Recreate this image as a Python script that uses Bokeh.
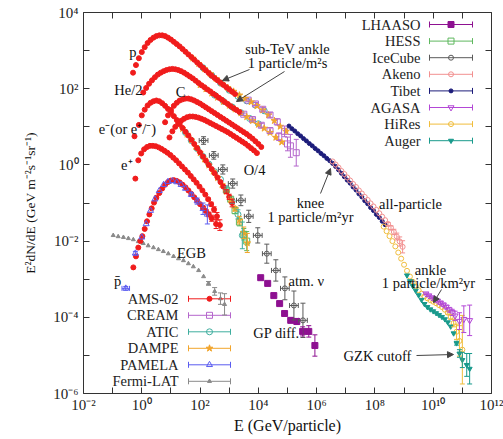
from bokeh.plotting import figure
from bokeh.models import (ColumnDataSource, FixedTicker, LogAxis, Whisker, TeeHead,
                          Arrow, NormalHead)
from bokeh.core.properties import value
from bokeh.embed import file_html
from bokeh.resources import INLINE

FONT = "Liberation Serif"

# ------------------------------------------------------------------ data
# All values are log10: energy in GeV/particle, flux E^2 dN/dE in GeV m^-2 s^-1 sr^-1.

# AMS-02 protons
ams_p_lgE = [-0.30, -0.20, -0.10, 0.00, 0.10, 0.20, 0.30, 0.40, 0.50, 0.60, 0.70, 0.80,
             0.90, 1.00, 1.10, 1.20, 1.30, 1.40, 1.50, 1.60, 1.70, 1.80, 1.90, 2.00,
             2.10, 2.20, 2.30, 2.40, 2.50, 2.60, 2.70, 2.80, 2.90, 3.00, 3.10, 3.20]
ams_p_lgF = [2.42, 2.62, 2.80, 2.96, 3.09, 3.20, 3.28, 3.34, 3.38, 3.40, 3.40, 3.38,
             3.34, 3.29, 3.23, 3.17, 3.11, 3.04, 2.97, 2.90, 2.83, 2.76, 2.69, 2.62,
             2.55, 2.48, 2.41, 2.34, 2.28, 2.22, 2.16, 2.10, 2.04, 1.98, 1.92, 1.86]
# AMS-02 helium (divided by 2)
ams_he_lgE = [0.05, 0.15, 0.25, 0.35, 0.45, 0.55, 0.65, 0.75, 0.85, 0.95, 1.05, 1.15,
              1.25, 1.35, 1.45, 1.55, 1.65, 1.75, 1.85, 1.95, 2.05, 2.15, 2.25, 2.35,
              2.45, 2.55, 2.65, 2.75, 2.85, 2.95, 3.05, 3.15, 3.25, 3.35]
ams_he_lgF = [1.90, 2.02, 2.13, 2.22, 2.30, 2.37, 2.42, 2.46, 2.49, 2.51, 2.52, 2.51,
              2.49, 2.46, 2.42, 2.37, 2.32, 2.27, 2.21, 2.15, 2.09, 2.04, 1.98, 1.93,
              1.87, 1.82, 1.76, 1.71, 1.65, 1.60, 1.54, 1.49, 1.44, 1.39]
# AMS-02 electrons
ams_em_lgE = [-0.25, -0.10, 0.00, 0.10, 0.20, 0.30, 0.40, 0.50, 0.60, 0.70, 0.80, 0.90,
              1.00, 1.10, 1.20, 1.30, 1.40, 1.50, 1.60, 1.70, 1.80, 1.90, 2.00, 2.10,
              2.20, 2.30, 2.40, 2.50, 2.60, 2.70, 2.80, 2.90, 3.00, 3.10]
ams_em_lgF = [0.75, 1.05, 1.30, 1.45, 1.56, 1.63, 1.67, 1.69, 1.67, 1.62, 1.55, 1.47,
              1.38, 1.28, 1.18, 1.07, 0.97, 0.87, 0.77, 0.66, 0.55, 0.44, 0.33, 0.22,
              0.11, 0.00, -0.11, -0.22, -0.33, -0.45, -0.57, -0.70, -0.84, -1.00]
ams_em_dF = [0, 0, 0, 0, 0, 0, 0, 0, 0, 0, 0, 0, 0, 0, 0, 0, 0, 0, 0, 0, 0, 0, 0, 0,
             0, 0, 0, 0, 0, 0, 0.03, 0.05, 0.07, 0.10]
# AMS-02 positrons
ams_ep_lgE = [-0.22, -0.12, -0.02, 0.08, 0.18, 0.28, 0.38, 0.48, 0.58, 0.68, 0.78, 0.88,
              0.98, 1.08, 1.18, 1.28, 1.38, 1.48, 1.58, 1.68, 1.78, 1.88, 1.98, 2.08,
              2.18, 2.28, 2.38, 2.48, 2.58, 2.68]
ams_ep_lgF = [-0.36, 0.12, 0.30, 0.41, 0.47, 0.50, 0.50, 0.49, 0.46, 0.42, 0.37, 0.32,
              0.26, 0.19, 0.12, 0.04, -0.04, -0.12, -0.20, -0.29, -0.38, -0.47, -0.57, -0.67,
              -0.78, -0.90, -1.03, -1.17, -1.35, -1.58]
ams_ep_dF = [0, 0, 0, 0, 0, 0, 0, 0, 0, 0, 0, 0, 0, 0, 0, 0, 0, 0, 0, 0, 0, 0, 0, 0,
             0, 0.03, 0.05, 0.07, 0.10, 0.14]
# AMS-02 antiprotons
ams_pb_lgE = [-0.29, -0.20, -0.12, -0.05, 0.02, 0.10, 0.18, 0.26, 0.34, 0.42, 0.50, 0.60,
              0.70, 0.80, 0.90, 1.00, 1.10, 1.20, 1.30, 1.40, 1.50, 1.60, 1.70, 1.80,
              1.90, 2.00, 2.10, 2.20, 2.30, 2.40, 2.55]
ams_pb_lgF = [-2.69, -2.40, -2.17, -2.00, -1.87, -1.68, -1.48, -1.30, -1.14, -0.99, -0.86, -0.74,
              -0.62, -0.52, -0.45, -0.41, -0.40, -0.42, -0.46, -0.52, -0.59, -0.67, -0.76, -0.85,
              -0.94, -1.03, -1.12, -1.21, -1.30, -1.40, -1.55]
ams_pb_dF = [0, 0, 0, 0, 0, 0, 0, 0, 0, 0, 0, 0, 0, 0, 0, 0, 0, 0, 0, 0, 0, 0, 0, 0,
             0, 0, 0.03, 0.04, 0.06, 0.08, 0.12]
# AMS-02 carbon
ams_c_lgE = [0.80, 0.90, 1.00, 1.10, 1.20, 1.30, 1.40, 1.50, 1.60, 1.70, 1.80, 1.90,
             2.00, 2.10, 2.20, 2.30, 2.40, 2.50, 2.60, 2.70, 2.80, 2.90, 3.00, 3.10,
             3.20, 3.30, 3.40, 3.50, 3.60, 3.70, 3.80, 3.90, 4.00, 4.10]
ams_c_lgF = [1.12, 1.30, 1.44, 1.55, 1.63, 1.69, 1.72, 1.74, 1.74, 1.72, 1.69, 1.65,
             1.61, 1.56, 1.51, 1.46, 1.41, 1.36, 1.31, 1.26, 1.21, 1.16, 1.11, 1.06,
             1.01, 0.96, 0.91, 0.86, 0.81, 0.75, 0.69, 0.62, 0.55, 0.47]
# AMS-02 oxygen (divided by 4)
ams_o_lgE = [0.95, 1.05, 1.15, 1.25, 1.35, 1.45, 1.55, 1.65, 1.75, 1.85, 1.95, 2.05,
             2.15, 2.25, 2.35, 2.45, 2.55, 2.65, 2.75, 2.85, 2.95, 3.05, 3.15, 3.25,
             3.35, 3.45, 3.55, 3.65, 3.75, 3.85, 3.95]
ams_o_lgF = [0.72, 0.88, 1.00, 1.09, 1.16, 1.21, 1.25, 1.27, 1.27, 1.26, 1.24, 1.21,
             1.18, 1.14, 1.10, 1.06, 1.02, 0.98, 0.94, 0.90, 0.86, 0.81, 0.76, 0.71,
             0.66, 0.61, 0.56, 0.50, 0.44, 0.38, 0.31]

# PAMELA antiprotons
pam_lgE = [-0.55, -0.22, 0.00, 0.15, 0.30, 0.45, 0.60, 0.75, 0.90, 1.05, 1.20, 1.35,
           1.50, 1.70, 1.90, 2.10, 2.25]
pam_lgF = [-3.24, -2.32, -1.90, -1.55, -1.20, -0.90, -0.68, -0.52, -0.44, -0.42, -0.45, -0.52,
           -0.62, -0.78, -0.95, -1.15, -1.30]
pam_dF = [0.05, 0.05, 0, 0, 0, 0, 0, 0, 0, 0, 0, 0, 0, 0.05, 0.08, 0.15, 0.25]
pam_dE = [0.13, 0, 0, 0, 0, 0, 0, 0, 0, 0, 0, 0, 0, 0, 0, 0, 0]

# DAMPE protons, helium (/2), electrons+positrons
dam_p_lgE = [1.75, 1.95, 2.15, 2.35, 2.55, 2.75, 2.95, 3.15, 3.35, 3.55, 3.75, 3.95,
             4.15, 4.35, 4.55, 4.75, 4.95]
dam_p_lgF = [2.80, 2.66, 2.52, 2.39, 2.26, 2.14, 2.03, 1.93, 1.83, 1.74, 1.65, 1.55,
             1.44, 1.31, 1.16, 1.01, 0.88]
dam_he_lgE = [2.0, 2.2, 2.4, 2.6, 2.8, 3.0, 3.2, 3.4, 3.6, 3.8, 4.0, 4.2, 4.4, 4.6, 4.8]
dam_he_lgF = [2.10, 1.99, 1.88, 1.77, 1.66, 1.56, 1.46, 1.36, 1.26, 1.16, 1.06, 0.96,
              0.85, 0.72, 0.60]
dam_e_lgE = [1.40, 1.55, 1.70, 1.85, 2.00, 2.15, 2.30, 2.45, 2.60, 2.75, 2.90, 3.05,
             3.20, 3.35, 3.50, 3.62]
dam_e_lgF = [0.95, 0.80, 0.65, 0.48, 0.31, 0.15, -0.01, -0.17, -0.34, -0.52, -0.70, -0.92,
             -1.15, -1.45, -1.78, -2.05]
dam_e_dF = [0, 0, 0, 0, 0, 0, 0, 0, 0, 0, 0, 0.04, 0.06, 0.10, 0.15, 0.25]

# ATIC protons, helium (/2), electrons
atic_p_lgE = [2.1, 2.4, 2.7, 3.0, 3.3, 3.6, 3.9, 4.2]
atic_p_lgF = [2.55, 2.35, 2.15, 1.96, 1.80, 1.68, 1.57, 1.42]
atic_he_lgE = [2.5, 2.8, 3.1, 3.4, 3.7, 4.0]
atic_he_lgF = [1.83, 1.67, 1.52, 1.37, 1.22, 1.08]
atic_e_lgE = [1.50, 1.70, 1.90, 2.10, 2.30, 2.50, 2.70, 2.90, 3.10, 3.30, 3.45]
atic_e_lgF = [0.85, 0.64, 0.43, 0.22, 0.02, -0.18, -0.38, -0.62, -0.95, -1.30, -1.85]
atic_e_dF = [0, 0, 0, 0, 0, 0, 0, 0.04, 0.06, 0.12, 0.35]

# CREAM protons, helium (/2)
cream_p_lgE = [3.65, 3.90, 4.15, 4.40, 4.65, 4.90, 5.10, 5.30]
cream_p_lgF = [1.70, 1.60, 1.46, 1.31, 1.13, 0.88, 0.50, 0.32]
cream_p_dF = [0.03, 0.04, 0.05, 0.06, 0.08, 0.14, 0.30, 0.35]
cream_he_lgE = [3.5, 3.8, 4.1, 4.4, 4.7, 5.0]
cream_he_lgF = [1.33, 1.19, 1.04, 0.90, 0.74, 0.55]
cream_he_dF = [0.03, 0.04, 0.05, 0.07, 0.10, 0.18]

# HESS electrons
hess_lgE = [2.90, 3.05, 3.20, 3.35, 3.50, 3.60]
hess_lgF = [-0.66, -0.90, -1.20, -1.50, -1.82, -2.00]
hess_dF = [0.05, 0.06, 0.08, 0.10, 0.15, 0.25]

# Fermi-LAT extragalactic gamma-ray background
egb_lgE = [-0.98, -0.81, -0.63, -0.46, -0.29, -0.12, 0.05, 0.22, 0.40, 0.57, 0.74, 0.91,
           1.09, 1.26, 1.43, 1.60, 1.77, 1.95, 2.12, 2.29, 2.50, 2.70, 2.84]
egb_lgF = [-1.85, -1.88, -1.90, -1.93, -1.96, -2.01, -2.06, -2.12, -2.17, -2.22, -2.27, -2.33,
           -2.40, -2.46, -2.51, -2.59, -2.67, -2.77, -2.93, -3.11, -3.32, -3.51, -3.66]
egb_dF = [0, 0, 0, 0, 0, 0, 0, 0, 0, 0, 0, 0, 0, 0, 0, 0, 0, 0, 0, 0.05, 0.10, 0.15, 0.28]

# IceCube atmospheric neutrinos
ice_lgE = [2.12, 2.47, 2.78, 3.12, 3.40, 3.67, 3.98, 4.29, 4.60, 4.91, 5.22, 5.53]
ice_lgF = [0.64, 0.25, -0.12, -0.49, -0.93, -1.35, -1.85, -2.33, -2.77, -3.24, -3.69, -4.08]
ice_dF = [0.10, 0.10, 0.12, 0.12, 0.14, 0.16, 0.20, 0.25, 0.28, 0.30, 0.38, 0.45]
ice_dE = [0.15, 0.15, 0.15, 0.15, 0.15, 0.15, 0.15, 0.15, 0.15, 0.15, 0.15, 0.15]

# LHAASO Galactic-plane diffuse gamma rays
lha_lgE = [4.08, 4.32, 4.53, 4.73, 4.90, 5.11, 5.32, 5.52, 5.73, 5.94]
lha_lgF = [-2.96, -3.11, -3.43, -3.64, -3.90, -4.08, -4.11, -4.37, -4.37, -4.74]
lha_dF = [0.03, 0.03, 0.03, 0.04, 0.05, 0.06, 0.08, 0.12, 0.15, 0.28]

# Tibet all-particle
tib_lgE = [5.05, 5.15, 5.25, 5.35, 5.45, 5.55, 5.65, 5.75, 5.85, 5.95, 6.05, 6.15,
           6.25, 6.35, 6.45, 6.55, 6.65, 6.75, 6.85, 6.95, 7.05, 7.15, 7.25, 7.35,
           7.45, 7.55, 7.65, 7.75, 7.85, 7.95, 8.05, 8.15, 8.25, 8.35]
tib_lgF = [1.02, 0.95, 0.89, 0.82, 0.76, 0.69, 0.63, 0.56, 0.50, 0.43, 0.37, 0.30,
           0.24, 0.17, 0.11, 0.04, -0.04, -0.13, -0.22, -0.31, -0.40, -0.48, -0.58, -0.66,
           -0.76, -0.84, -0.94, -1.02, -1.12, -1.20, -1.30, -1.38, -1.48, -1.57]
# Akeno all-particle
ake_lgE = [6.55, 6.65, 6.75, 6.85, 6.95, 7.05, 7.15, 7.25, 7.35, 7.45, 7.55, 7.65,
           7.75, 7.85, 7.95, 8.05, 8.15, 8.25, 8.35, 8.45, 8.55, 8.65, 8.75, 8.85, 8.95]
ake_lgF = [0.09, 0.01, -0.07, -0.16, -0.24, -0.33, -0.41, -0.50, -0.58, -0.67, -0.75, -0.84,
           -0.92, -1.01, -1.09, -1.18, -1.27, -1.36, -1.45, -1.55, -1.65, -1.76, -1.88, -2.01, -2.15]
ake_dF = [0, 0, 0, 0, 0, 0, 0, 0, 0, 0, 0, 0, 0, 0, 0, 0, 0, 0, 0,
          0.04, 0.05, 0.07, 0.09, 0.12, 0.16]
# HiRes
hir_lgE = [8.30, 8.40, 8.50, 8.60, 8.70, 8.80, 8.90, 9.00, 9.10, 9.20, 9.30, 9.40,
           9.50, 9.60, 9.70, 9.80, 9.90, 10.00, 10.10, 10.20, 10.30, 10.40, 10.50, 10.60,
           10.70, 10.80, 10.90, 11.00]
hir_lgF = [-1.62, -1.74, -1.87, -2.00, -2.14, -2.30, -2.46, -2.62, -2.78, -2.93, -3.07, -3.19,
           -3.29, -3.38, -3.45, -3.50, -3.55, -3.59, -3.63, -3.68, -3.73, -3.80, -3.88, -3.99,
           -4.15, -4.38, -4.62, -4.85]
hir_dF = [0, 0, 0, 0, 0, 0, 0, 0, 0, 0, 0, 0, 0, 0, 0, 0, 0, 0, 0, 0, 0, 0,
          0.04, 0.06, 0.10, 0.20, 0.40, 0.90]
# AGASA
aga_lgE = [9.75, 9.85, 9.95, 10.05, 10.15, 10.25, 10.35, 10.45, 10.55, 10.65, 10.75, 10.90,
           11.05, 11.25]
aga_lgF = [-3.38, -3.43, -3.48, -3.53, -3.57, -3.62, -3.67, -3.73, -3.80, -3.87, -3.96, -4.10,
           -4.05, -4.08]
aga_dF = [0.02, 0.02, 0.02, 0.03, 0.03, 0.04, 0.04, 0.05, 0.06, 0.08, 0.12, 0.22, 0.35, 0.40]
# Pierre Auger
aug_lgE = [9.10, 9.20, 9.30, 9.40, 9.50, 9.60, 9.70, 9.80, 9.90, 10.00, 10.10, 10.20,
           10.30, 10.40, 10.50, 10.60, 10.70, 10.80, 10.90, 11.00, 11.15, 11.25]
aug_lgF = [-2.90, -3.05, -3.18, -3.30, -3.42, -3.54, -3.65, -3.73, -3.79, -3.84, -3.89, -3.94,
           -3.99, -4.05, -4.13, -4.24, -4.42, -4.68, -4.95, -5.12, -5.25, -5.35]
aug_dF = [0, 0, 0, 0, 0, 0, 0, 0, 0, 0, 0, 0, 0, 0, 0, 0, 0, 0.05, 0.10, 0.20, 0.30, 0.40]

# axis ticks: labelled (even) and unlabelled (odd) decades
x_major = [-2, 0, 2, 4, 6, 8, 10, 12]
x_minor = [-1, 1, 3, 5, 7, 9, 11]
y_major = [-6, -4, -2, 0, 2, 4]
y_minor = [-5, -3, -1, 1, 3]

# ------------------------------------------------------------------ styles
STY = {
    "AMS-02":    dict(marker="circle", color="#f01c1c", size=5, filled=True),
    "CREAM":     dict(marker="square", color="#b466cc", size=6, filled=False),
    "ATIC":      dict(marker="circle", color="#3fae9f", size=6, filled=False),
    "DAMPE":     dict(marker="star", color="#f2a52c", size=7, filled=True),
    "PAMELA":    dict(marker="triangle", color="#5a5cf0", size=6, filled=False),
    "Fermi-LAT": dict(marker="triangle", color="#8a8a8a", size=4, filled=True),
    "LHAASO":    dict(marker="square", color="#8e1191", size=6, filled=True),
    "HESS":      dict(marker="square", color="#5fb85f", size=6, filled=False),
    "IceCube":   dict(marker="circle", color="#5a5a5a", size=5, filled=False),
    "Akeno":     dict(marker="circle", color="#f29090", size=5, filled=False),
    "Tibet":     dict(marker="circle", color="#1c1c7a", size=4, filled=True),
    "AGASA":     dict(marker="inverted_triangle", color="#b347d6", size=6, filled=False),
    "HiRes":     dict(marker="circle", color="#f0bd3c", size=5, filled=False),
    "Auger":     dict(marker="inverted_triangle", color="#199a8c", size=5, filled=True),
}

# ------------------------------------------------------------------ figure
W, H = 503, 439
FL, FR, FT, FB = 83, 491, 12, 393      # frame edges on the canvas (px)
DX = (FR - FL) / 14.0                  # px per decade of E
DY = (FB - FT) / 10.0                  # px per decade of flux


def at(px, py):
    """Canvas pixel -> data coordinates (for labels, keys and arrows)."""
    return 10 ** ((px - FL) / DX - 2), 10 ** ((FB - py) / DY - 6)


def tens(v):
    return [10.0 ** a for a in v]


p = figure(width=W, height=H, x_axis_type="log", y_axis_type="log",
           x_range=(1e-2, 1e12), y_range=(1e-6, 1e4),
           output_backend="svg", toolbar_location=None,
           min_border_left=FL, min_border_right=W - FR,
           min_border_top=FT, min_border_bottom=H - FB)
p.grid.visible = False
p.outline_line_color = None
p.background_fill_color = "white"
p.border_fill_color = "white"

AX = "#333333"
sup = str.maketrans("-0123456789", "⁻⁰¹²³⁴⁵⁶⁷⁸⁹")


def dec_label(k):
    return "10" + str(k).translate(sup)


def style_axis(ax, major, minor, labels):
    ax.ticker = FixedTicker(ticks=[10.0 ** k for k in major],
                            minor_ticks=[10.0 ** k for k in minor])
    ax.axis_line_color = AX
    ax.major_tick_line_color = AX
    ax.minor_tick_line_color = AX
    ax.major_tick_in = 6
    ax.major_tick_out = 0
    ax.minor_tick_in = 6
    ax.minor_tick_out = 0
    if labels:
        ax.major_label_overrides = {10.0 ** k: dec_label(k) for k in major}
        ax.major_label_text_font = FONT
        ax.major_label_text_font_size = "15px"
        ax.major_label_text_color = "#222222"
        ax.axis_label_text_font = FONT
        ax.axis_label_text_font_style = "normal"
        ax.axis_label_text_color = "#111111"
    else:
        ax.major_label_text_font_size = "1px"
        ax.major_label_text_alpha = 0
        ax.major_label_standoff = 0


style_axis(p.xaxis[0], x_major, x_minor, True)
style_axis(p.yaxis[0], y_major, y_minor, True)
p.xaxis[0].axis_label = "E (GeV/particle)"
p.yaxis[0].axis_label = "E²dN/dE (GeV m⁻²s⁻¹sr⁻¹)"
p.xaxis[0].axis_label_text_font_size = "16px"
p.yaxis[0].axis_label_text_font_size = "13.5px"
p.xaxis[0].major_label_standoff = 3
p.xaxis[0].axis_label_standoff = 1
p.yaxis[0].major_label_standoff = 5
p.yaxis[0].axis_label_standoff = 12

top = LogAxis()
style_axis(top, x_major, x_minor, False)
p.add_layout(top, "above")
right = LogAxis()
style_axis(right, y_major, y_minor, False)
p.add_layout(right, "right")


def bars(xs, los, his, color, dim):
    src = ColumnDataSource(dict(b=xs, lo=los, hi=his))
    p.add_layout(Whisker(source=src, base="b", lower="lo", upper="hi", dimension=dim,
                         line_color=color, line_width=1, level="glyph",
                         lower_head=TeeHead(size=5, line_color=color, line_width=1),
                         upper_head=TeeHead(size=5, line_color=color, line_width=1)))


def draw(name, lgE, lgF, dF=None, dE=None, size=None):
    s = STY[name]
    x, y = tens(lgE), tens(lgF)
    if dF is not None:
        idx = [i for i, d in enumerate(dF) if d > 0]
        if idx:
            bars([x[i] for i in idx], [10 ** (lgF[i] - dF[i]) for i in idx],
                 [10 ** (lgF[i] + dF[i]) for i in idx], s["color"], "height")
    if dE is not None:
        idx = [i for i, d in enumerate(dE) if d > 0]
        if idx:
            bars([y[i] for i in idx], [10 ** (lgE[i] - dE[i]) for i in idx],
                 [10 ** (lgE[i] + dE[i]) for i in idx], s["color"], "width")
    p.scatter(x, y, marker=s["marker"], size=size or s["size"], line_color=s["color"],
              fill_color=s["color"] if s["filled"] else None, line_width=1)


# ------------------------------------------------------------------ data layers
draw("Fermi-LAT", egb_lgE, egb_lgF, dF=egb_dF)
draw("IceCube", ice_lgE, ice_lgF, dF=ice_dF, dE=ice_dE)
draw("LHAASO", lha_lgE, lha_lgF, dF=lha_dF)
draw("ATIC", atic_p_lgE, atic_p_lgF)
draw("ATIC", atic_he_lgE, atic_he_lgF)
draw("CREAM", cream_p_lgE, cream_p_lgF, dF=cream_p_dF)
draw("CREAM", cream_he_lgE, cream_he_lgF, dF=cream_he_dF)
draw("DAMPE", dam_p_lgE, dam_p_lgF)
draw("DAMPE", dam_he_lgE, dam_he_lgF)
draw("HESS", hess_lgE, hess_lgF, dF=hess_dF)
draw("ATIC", atic_e_lgE, atic_e_lgF, dF=atic_e_dF)
draw("DAMPE", dam_e_lgE, dam_e_lgF, dF=dam_e_dF)
draw("AMS-02", ams_p_lgE, ams_p_lgF)
draw("AMS-02", ams_he_lgE, ams_he_lgF)
draw("AMS-02", ams_c_lgE, ams_c_lgF)
draw("AMS-02", ams_o_lgE, ams_o_lgF)
draw("AMS-02", ams_em_lgE, ams_em_lgF, dF=ams_em_dF)
draw("AMS-02", ams_ep_lgE, ams_ep_lgF, dF=ams_ep_dF)
draw("AMS-02", ams_pb_lgE, ams_pb_lgF, dF=ams_pb_dF)
draw("PAMELA", pam_lgE, pam_lgF, dF=pam_dF, dE=pam_dE)
draw("Tibet", tib_lgE, tib_lgF)
draw("Akeno", ake_lgE, ake_lgF, dF=ake_dF)
draw("HiRes", hir_lgE, hir_lgF, dF=hir_dF)
draw("AGASA", aga_lgE, aga_lgF, dF=aga_dF)
draw("Auger", aug_lgE, aug_lgF, dF=aug_dF)

# ------------------------------------------------------------------ keys


def key_block(names, text_right, x0, x1, y_first, step):
    for i, name in enumerate(names):
        s = STY[name]
        yk = y_first + i * step
        tx, ty = at(text_right, yk)
        p.text([tx], [ty], text=[name], text_font=value(FONT), text_font_size="14.5px",
               text_align="right", text_baseline="middle", text_color="#222222")
        ax0, ay = at(x0, yk)
        ax1, _ = at(x1, yk)
        p.segment([ax0], [ay], [ax1], [ay], line_color=s["color"], line_width=1)
        for cx in (x0, x1):
            c0x, c0y = at(cx, yk - 3)
            _, c1y = at(cx, yk + 3)
            p.segment([c0x], [c0y], [c0x], [c1y], line_color=s["color"], line_width=1)
        mx, my = at((x0 + x1) / 2, yk)
        p.scatter([mx], [my], marker=s["marker"], size=s["size"], line_color=s["color"],
                  fill_color=s["color"] if s["filled"] else None, line_width=1)


key_block(["AMS-02", "CREAM", "ATIC", "DAMPE", "PAMELA", "Fermi-LAT"], 178, 188, 230, 298.3, 16.5)
key_block(["LHAASO", "HESS", "IceCube", "Akeno", "Tibet", "AGASA", "HiRes", "Auger"],
          420, 429, 472, 24.0, 16.6)

# ------------------------------------------------------------------ annotations
labels = [
    ("p", 136, 51, "right"),
    ("He/2", 142, 89, "right"),
    ("e⁻(or e⁺/⁻)", 127, 128, "center"),
    ("e⁺", 132, 164, "right"),
    ("C", 180, 91, "center"),
    ("O/4", 254, 169, "center"),
    ("p̄", 117, 280, "center"),
    ("EGB", 191, 252, "center"),
    ("atm. ν", 288, 280, "left"),
    ("GP diff.", 276, 332, "center"),
    ("sub-TeV ankle", 287, 48, "center"),
    ("1 particle/m²s", 287, 62, "center"),
    ("knee", 310, 202, "center"),
    ("1 particle/m²yr", 310, 216, "center"),
    ("all-particle", 410, 203, "center"),
    ("ankle", 430, 269, "center"),
    ("1 particle/km²yr", 428, 282, "center"),
    ("GZK cutoff", 377, 355, "center"),
]
for txt, px, py, al in labels:
    lx, ly = at(px, py)
    p.text([lx], [ly], text=[txt], text_font=value(FONT), text_font_size="14.5px",
           text_align=al, text_baseline="middle", text_color="#111111")

arrows = [
    (249, 69, 222, 80),
    (284, 71, 236, 101),
    (320, 193, 330, 168),
    (441, 289, 433, 302),
    (416, 355, 453, 354),
]
for sx, sy, ex, ey in arrows:
    x0, y0 = at(sx, sy)
    x1, y1 = at(ex, ey)
    p.add_layout(Arrow(x_start=x0, y_start=y0, x_end=x1, y_end=y1,
                       line_color="#444444", line_width=1,
                       end=NormalHead(size=6, line_color="#444444", fill_color="#444444")))

open("out.html", "w").write(file_html(p, INLINE))
